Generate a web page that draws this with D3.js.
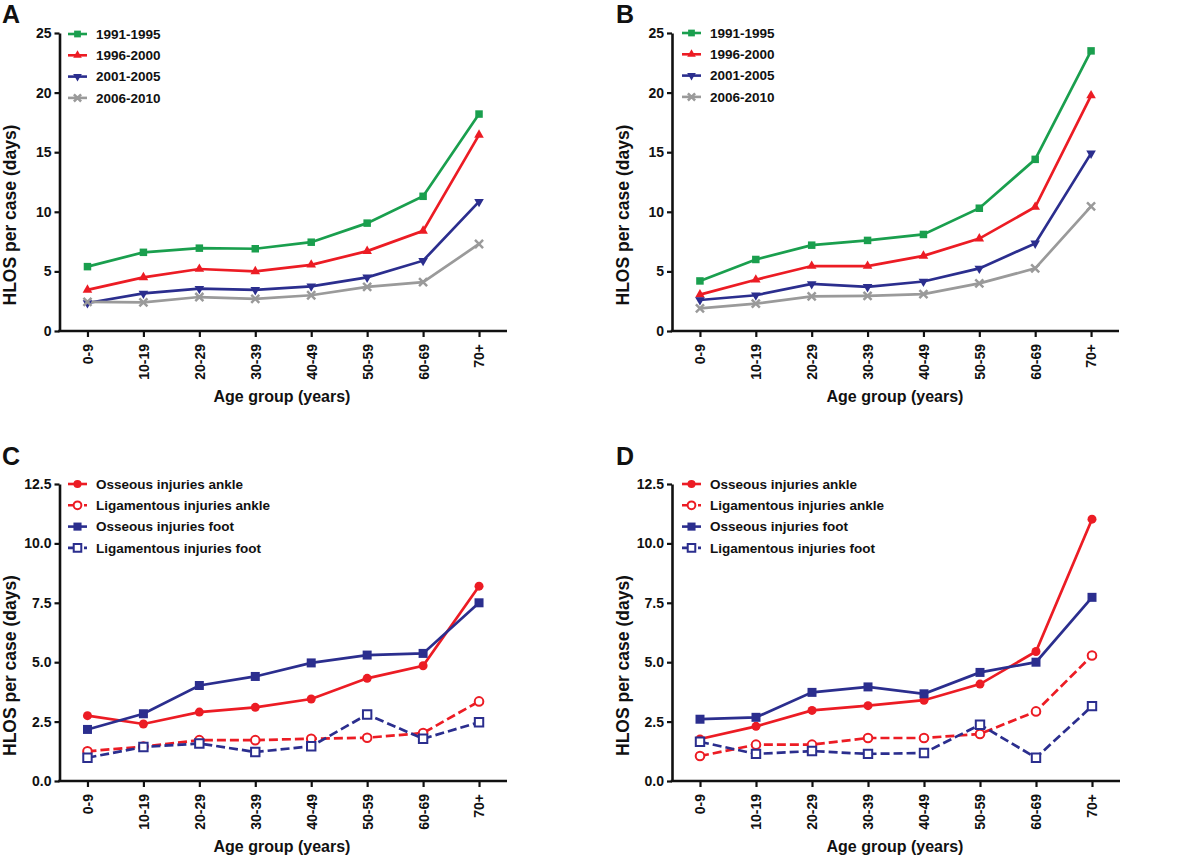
<!DOCTYPE html>
<html>
<head>
<meta charset="utf-8">
<script src="https://cdn.jsdelivr.net/npm/d3@7"></script>
<style>
  html, body { margin: 0; padding: 0; background: #fff; }
  svg { display: block; }
  text { font-family: "Liberation Sans", Arial, Helvetica, sans-serif; font-weight: bold; fill: #111; }
</style>
</head>
<body>
<svg id="chart" width="1200" height="861"></svg>
<script>
// ---------------- data ----------------
const ageGroups = ["0-9", "10-19", "20-29", "30-39", "40-49", "50-59", "60-69", "70+"];

const periodLabels = ["1991-1995", "1996-2000", "2001-2005", "2006-2010"];
const injuryLabels = ["Osseous injuries ankle", "Ligamentous injuries ankle", "Osseous injuries foot", "Ligamentous injuries foot"];

// Panel A
const a1991 = [5.4, 6.6, 6.95, 6.9, 7.45, 9.05, 11.3, 18.2];
const a1996 = [3.45, 4.5, 5.2, 5.0, 5.55, 6.7, 8.4, 16.45];
const a2001 = [2.35, 3.15, 3.55, 3.45, 3.75, 4.5, 5.9, 10.85];
const a2006 = [2.45, 2.4, 2.85, 2.7, 3.0, 3.7, 4.1, 7.3];
// Panel B
const b1991 = [4.2, 6.0, 7.2, 7.6, 8.1, 10.3, 14.4, 23.5];
const b1996 = [3.05, 4.3, 5.45, 5.45, 6.3, 7.75, 10.4, 19.75];
const b2001 = [2.6, 3.0, 3.95, 3.7, 4.15, 5.25, 7.35, 14.9];
const b2006 = [1.9, 2.3, 2.9, 2.95, 3.1, 4.0, 5.25, 10.45];
// Panel C
const cOssAnkle = [2.75, 2.4, 2.9, 3.1, 3.45, 4.32, 4.85, 8.2];
const cLigAnkle = [1.25, 1.45, 1.72, 1.72, 1.78, 1.82, 2.02, 3.35];
const cOssFoot  = [2.17, 2.83, 4.02, 4.4, 4.97, 5.3, 5.37, 7.5];
const cLigFoot  = [0.98, 1.43, 1.58, 1.22, 1.46, 2.8, 1.78, 2.47];
// Panel D
const dOssAnkle = [1.77, 2.3, 2.97, 3.17, 3.4, 4.08, 5.45, 11.02];
const dLigAnkle = [1.05, 1.53, 1.53, 1.81, 1.81, 1.98, 2.93, 5.28];
const dOssFoot  = [2.6, 2.68, 3.73, 3.96, 3.67, 4.57, 5.0, 7.73];
const dLigFoot  = [1.65, 1.14, 1.26, 1.14, 1.18, 2.37, 0.98, 3.15];

const ticksAB = [0, 5, 10, 15, 20, 25];
const ticksCD = [0, 2.5, 5, 7.5, 10, 12.5];

// ---------------- styles ----------------
const GREEN = "#1a9f4e", RED = "#ec1c24", BLUE = "#2b2e8e", GRAY = "#9a9a9a";

const periodStyles = [
  { color: GREEN, shape: "square", fill: true, dash: null, size: 7.5 },
  { color: RED, shape: "triUp", fill: true, dash: null, size: 1 },
  { color: BLUE, shape: "triDown", fill: true, dash: null, size: 1 },
  { color: GRAY, shape: "x", fill: true, dash: null, size: 1 }
];
const injuryStyles = [
  { color: RED, shape: "circle", fill: true, dash: null, size: 4.5 },
  { color: RED, shape: "circle", fill: false, dash: "9,4", size: 4.3 },
  { color: BLUE, shape: "square", fill: true, dash: null, size: 9 },
  { color: BLUE, shape: "square", fill: false, dash: "9,4", size: 8.4 }
];

const panels = [
  { letter: "A", lx: 2, ly: 23, x0: 59.5, x1: 507, yTop: 33, yBot: 331, max: 25, ticks: ticksAB, fmt: d3.format("d"),
    series: [a1991, a1996, a2001, a2006], labels: periodLabels, styles: periodStyles,
    legX: 68, legY: 34, titleX: 16, xTitleX: 282 },
  { letter: "B", lx: 616, ly: 23, x0: 672, x1: 1119, yTop: 33, yBot: 331, max: 25, ticks: ticksAB, fmt: d3.format("d"),
    series: [b1991, b1996, b2001, b2006], labels: periodLabels, styles: periodStyles,
    legX: 682, legY: 33, titleX: 629, xTitleX: 895 },
  { letter: "C", lx: 2, ly: 465, x0: 59.5, x1: 507, yTop: 484, yBot: 781, max: 12.5, ticks: ticksCD, fmt: d3.format(".1f"),
    series: [cOssAnkle, cLigAnkle, cOssFoot, cLigFoot], labels: injuryLabels, styles: injuryStyles,
    legX: 68, legY: 484, titleX: 16, xTitleX: 282 },
  { letter: "D", lx: 616, ly: 465, x0: 672, x1: 1120, yTop: 484, yBot: 781, max: 12.5, ticks: ticksCD, fmt: d3.format(".1f"),
    series: [dOssAnkle, dLigAnkle, dOssFoot, dLigFoot], labels: injuryLabels, styles: injuryStyles,
    legX: 682, legY: 484, titleX: 629, xTitleX: 895 }
];

const svg = d3.select("#chart");

function drawMarker(g, st, x, y, scale) {
  const k = scale || 1;
  let sel;
  if (st.shape === "square") {
    const s = st.size * k;
    sel = g.append("path").attr("d", d3.symbol(d3.symbolSquare, s * s)());
  } else if (st.shape === "circle") {
    const r = st.size * k;
    sel = g.append("path").attr("d", d3.symbol(d3.symbolCircle, Math.PI * r * r)());
  } else if (st.shape === "triUp" || st.shape === "triDown") {
    sel = g.append("path").attr("d", d3.symbol(d3.symbolTriangle, 40 * k * k)());
  } else if (st.shape === "x") {
    sel = g.append("path").attr("d", d3.symbol(d3.symbolTimes, 44 * k * k)());
  }
  const rot = st.shape === "triDown" ? " rotate(180)" : "";
  sel.attr("transform", `translate(${x},${y})${rot}`);
  if (st.shape === "x") {
    sel.attr("fill", "none").attr("stroke", st.color).attr("stroke-width", 2.5);
  } else if (st.fill) {
    sel.attr("fill", st.color).attr("stroke", "none");
  } else {
    sel.attr("fill", "#fff").attr("stroke", st.color).attr("stroke-width", 2);
  }
}

panels.forEach(p => {
  const g = svg.append("g");
  const x = d3.scalePoint().domain(ageGroups).range([p.x0, p.x1]).padding(0.5);
  const y = d3.scaleLinear().domain([0, p.max]).range([p.yBot, p.yTop]);

  // panel letter
  g.append("text").attr("x", p.lx).attr("y", p.ly).attr("font-size", 25).text(p.letter);

  // y axis
  const ya = g.append("g").attr("transform", `translate(${p.x0},0)`)
    .call(d3.axisLeft(y).tickValues(p.ticks).tickFormat(p.fmt).tickSize(5).tickSizeOuter(0).tickPadding(3));
  ya.select(".domain").attr("stroke", "#111").attr("stroke-width", 2.6);
  ya.selectAll(".tick line").attr("stroke", "#111").attr("stroke-width", 2.2);
  ya.selectAll(".tick text").attr("font-size", 14).attr("font-family", null).attr("fill", "#111");

  // x axis
  const xa = g.append("g").attr("transform", `translate(0,${p.yBot})`)
    .call(d3.axisBottom(x).tickSize(6).tickSizeOuter(0));
  xa.select(".domain").attr("stroke", "#111").attr("stroke-width", 2.6)
    .attr("d", `M${p.x0 - 1.3},0H${p.x1}`);
  xa.selectAll(".tick line").attr("stroke", "#111").attr("stroke-width", 2.2);
  xa.selectAll(".tick text").attr("font-size", 14).attr("font-family", null).attr("fill", "#111")
    .attr("transform", "rotate(-90)").attr("text-anchor", "end")
    .attr("x", -13).attr("y", 0).attr("dy", "0.35em");

  // axis titles
  g.append("text").attr("transform", `translate(${p.titleX},${(p.yTop + p.yBot) / 2 + 33}) rotate(-90)`)
    .attr("text-anchor", "middle").attr("font-size", 17.5).text("HLOS per case (days)");
  g.append("text").attr("x", p.xTitleX).attr("y", p.yBot + 71)
    .attr("text-anchor", "middle").attr("font-size", 16).text("Age group (years)");

  // series
  const line = d3.line().x((d, i) => x(ageGroups[i])).y(d => y(d));
  p.series.forEach((vals, si) => {
    const st = p.styles[si];
    g.append("path").datum(vals).attr("d", line).attr("fill", "none")
      .attr("stroke", st.color).attr("stroke-width", 2.7)
      .attr("stroke-dasharray", st.dash);
  });
  p.series.forEach((vals, si) => {
    const st = p.styles[si];
    vals.forEach((v, i) => drawMarker(g, st, x(ageGroups[i]), y(v), 1));
  });

  // legend
  const rowH = 21.3;
  p.labels.forEach((lab, i) => {
    const st = p.styles[i];
    const ly = p.legY + i * rowH;
    g.append("line").attr("x1", p.legX).attr("x2", p.legX + 19).attr("y1", ly).attr("y2", ly)
      .attr("stroke", st.color).attr("stroke-width", 2.6)
      .attr("stroke-dasharray", st.dash ? "5,3" : null);
    drawMarker(g, st, p.legX + 9.5, ly, 0.9);
    g.append("text").attr("x", p.legX + 28).attr("y", ly).attr("dy", "0.36em")
      .attr("font-size", 13.5).text(lab);
  });
});
</script>
</body>
</html>
